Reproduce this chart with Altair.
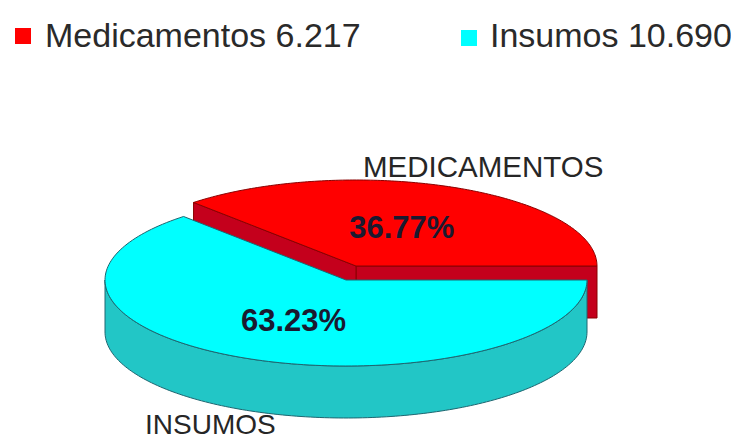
import altair as alt
import numpy as np
import pandas as pd

# ---- data ----
categories = ["Medicamentos", "Insumos"]
values = [6217, 10690]
slice_labels = ["MEDICAMENTOS", "INSUMOS"]

# ---- styles / layout ----
top_colors = ["#FF0000", "#00FFFF"]
side_colors = ["#C4001C", "#22C6C6"]
edge_colors = ["#8A0000", "#1E6670"]
CX, CY = 346, 280          # ellipse centre (page px)
A, B = 241, 86             # ellipse radii
DEPTH = 52                 # pie thickness
OFFSETS = [(10, -14), (0, 0)]  # explode offset per slice
N = 160
legend_pos = [(23, 36, 45, 47), (469, 38, 490, 47)]   # square x,y ; text x,y
name_pos = [(363, 177), (145, 434)]
name_sizes = [29.5, 28]
label_r = [0.47, 0.54]

total = sum(values)
shares = [v / total for v in values]
bounds = np.concatenate([[0.0], np.cumsum(shares)]) * 2 * np.pi


def rim(t, off, down=0.0):
    return CX + off[0] + A * np.cos(t), CY + off[1] - B * np.sin(t) + down


def poly_rows(pid, pts):
    return [{"poly": pid, "ord": i, "x": float(x), "y": float(y)} for i, (x, y) in enumerate(pts)]


rows_radial, rows_top0, rows_side1, rows_top1 = [], [], [], []

# slice 0 (red, back slice): radial faces + top face
t0, t1 = bounds[0], bounds[1]
off = OFFSETS[0]
vx, vy = CX + off[0], CY + off[1]
for k, t in enumerate([t0, t1]):
    rx, ry = rim(t, off)
    rows_radial += poly_rows(f"r{k}", [(vx, vy), (rx, ry), (rx, ry + DEPTH), (vx, vy + DEPTH), (vx, vy)])
ts = np.linspace(t0, t1, N)
pts = [(vx, vy)] + [rim(t, off) for t in ts] + [(vx, vy)]
rows_top0 = poly_rows("top0", pts)

# slice 1 (cyan, front slice): side + top face
t0, t1 = bounds[1], bounds[2]
off = OFFSETS[1]
vx, vy = CX + off[0], CY + off[1]
s0 = max(t0, np.pi)
ts = np.linspace(s0, t1, N)
pts = [rim(t, off) for t in ts] + [rim(t, off, DEPTH) for t in ts[::-1]]
pts.append(pts[0])
rows_side1 = poly_rows("side1", pts)
ts = np.linspace(t0, t1, N)
pts = [(vx, vy)] + [rim(t, off) for t in ts] + [(vx, vy)]
rows_top1 = poly_rows("top1", pts)

xs = alt.Scale(domain=[8, 731], nice=False, zero=False)
ys = alt.Scale(domain=[8, 439], nice=False, zero=False, reverse=True)


def poly_layer(rows, fill, stroke):
    return alt.Chart(pd.DataFrame(rows)).mark_line(
        filled=True, fill=fill, stroke=stroke, strokeWidth=1, fillOpacity=1
    ).encode(
        x=alt.X("x:Q", scale=xs, axis=None),
        y=alt.Y("y:Q", scale=ys, axis=None),
        order="ord:Q",
        detail="poly:N",
    )


# percent labels
pct_rows = []
for i, s in enumerate(shares):
    mid = (bounds[i] + bounds[i + 1]) / 2
    off = OFFSETS[i]
    pct_rows.append({
        "x": CX + off[0] + label_r[i] * A * np.cos(mid),
        "y": CY + off[1] - label_r[i] * B * np.sin(mid),
        "t": f"{s * 100:.2f}%",
    })
pct_df = pd.DataFrame(pct_rows)

name_df = pd.DataFrame([{"x": p[0], "y": p[1], "t": n, "s": fs}
                        for p, n, fs in zip(name_pos, slice_labels, name_sizes)])
leg_sq = pd.DataFrame([{"x": p[0], "y": p[1], "c": c} for p, c in zip(legend_pos, categories)])
leg_tx = pd.DataFrame([
    {"x": p[2], "y": p[3], "t": f"{c} {v:,}".replace(",", ".")}
    for p, c, v in zip(legend_pos, categories, values)
])

enc_xy = dict(x=alt.X("x:Q", scale=xs, axis=None), y=alt.Y("y:Q", scale=ys, axis=None))

pct = alt.Chart(pct_df).mark_text(
    font="Liberation Sans, Arial, sans-serif",
    fontWeight="bold", fontSize=31, color="#1A1A30", align="center", baseline="middle",
).encode(text="t:N", **enc_xy)

names = alt.Chart(name_df).mark_text(
    font="Liberation Sans, Arial, sans-serif", color="#262626",
    align="left", baseline="alphabetic",
).encode(text="t:N", size=alt.Size("s:Q", scale=None, legend=None), **enc_xy)

sq = alt.Chart(leg_sq).mark_square(size=256, opacity=1).encode(
    color=alt.Color("c:N", scale=alt.Scale(domain=categories, range=top_colors), legend=None),
    **enc_xy,
)

leg_text = alt.Chart(leg_tx).mark_text(
    font="Liberation Sans, Arial, sans-serif", fontSize=34, color="#2A2A2A",
    align="left", baseline="alphabetic",
).encode(text="t:N", **enc_xy)

chart = alt.layer(
    poly_layer(rows_radial, side_colors[0], edge_colors[0]),
    poly_layer(rows_top0, top_colors[0], edge_colors[0]),
    poly_layer(rows_side1, side_colors[1], edge_colors[1]),
    poly_layer(rows_top1, top_colors[1], edge_colors[1]),
    pct, names, sq, leg_text,
).properties(
    width=723, height=431, padding=0, autosize="none", background="white"
).configure_view(stroke=None)

chart.save("out.html", embed_options={"renderer": "svg", "actions": False})
